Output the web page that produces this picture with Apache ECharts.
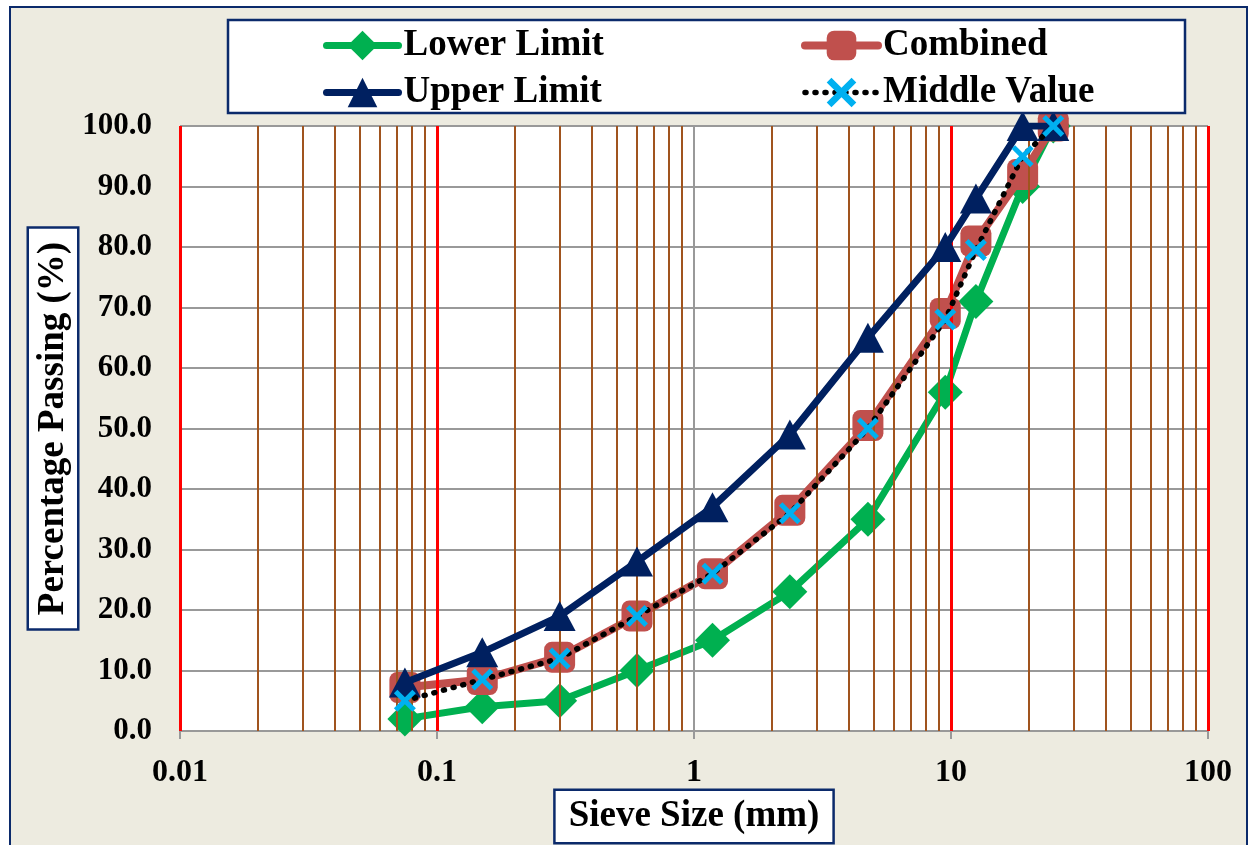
<!DOCTYPE html>
<html>
<head>
<meta charset="utf-8">
<script src="https://cdn.jsdelivr.net/npm/echarts@6/dist/echarts.min.js"></script>
<style>
html,body{margin:0;padding:0;background:#ffffff;}
#chart{width:1251px;height:845px;}
</style>
</head>
<body>
<div id="chart"></div>
<script>
const sieveSizes = [0.075, 0.15, 0.3, 0.6, 1.18, 2.36, 4.75, 9.5, 12.5, 19, 25];
const lowerLimit = [2, 4, 5, 10, 15, 23, 35, 56, 71, 90, 100];
const upperLimit = [8, 13, 19, 28, 37, 49, 65, 80, 88, 100, 100];
const combined = [7.2, 8.5, 12.2, 19, 26, 36.5, 50.5, 69, 81, 92, 100];
const middleValue = [5, 8.5, 12, 19, 26, 36, 50, 68, 79.5, 95, 100];
const minorGridValues = [0.02,0.03,0.04,0.05,0.06,0.07,0.08,0.09,0.2,0.3,0.4,0.5,0.6,0.7,0.8,0.9,2,3,4,5,6,7,8,9,20,30,40,50,60,70,80,90];
const redGridValues = [0.01, 0.1, 10, 100];
const grayGridValues = [1];

const FONT = "'Liberation Serif','Times New Roman',serif";
const pairs = (ys) => sieveSizes.map((x, i) => [x, ys[i]]);
const xPath = 'path://M0,1.6 L1.6,0 L5,3.4 L8.4,0 L10,1.6 L6.6,5 L10,8.4 L8.4,10 L5,6.6 L1.6,10 L0,8.4 L3.4,5 Z';

const legendText = {fontFamily: FONT, fontWeight: 'bold', fontSize: 37, color: '#000', lineHeight: 37};
const legendLine = {width: 'inherit', cap: 'round'};

const chart = echarts.init(document.getElementById('chart'), null, {renderer: 'canvas'});
chart.setOption({
  backgroundColor: '#ffffff',
  animation: false,
  graphic: [
    {type: 'rect', z: -10, shape: {x: 10, y: 7, width: 1237, height: 860},
     style: {fill: '#EDEBE0', stroke: '#0B2A6B', lineWidth: 2}},
    {type: 'rect', z: -9, shape: {x: 180, y: 126, width: 1028, height: 605},
     style: {fill: '#ffffff'}},
    {type: 'rect', z: 8, shape: {x: 228, y: 20, width: 957, height: 93},
     style: {fill: '#ffffff', stroke: '#0B2A6B', lineWidth: 2.5}}
  ],
  grid: {left: 180, right: 43, top: 126, bottom: 114, containLabel: false, outerBoundsMode: 'none'},
  legend: [
    {orient: 'vertical', left: 323, top: 27, padding: 0, itemWidth: 72, itemHeight: 37, itemGap: 10, z: 10,
     data: ['Lower Limit', 'Upper Limit'], lineStyle: legendLine, textStyle: legendText},
    {orient: 'vertical', left: 801, top: 27, padding: 0, itemWidth: 73, itemHeight: 37, itemGap: 10, z: 10,
     data: ['Combined', 'Middle Value'], lineStyle: legendLine, textStyle: legendText}
  ],
  xAxis: {
    type: 'log', logBase: 10, min: 0.01, max: 100,
    name: 'Sieve Size (mm)', nameLocation: 'middle', nameGap: 60, nameMoveOverlap: false,
    nameTextStyle: {fontFamily: FONT, fontWeight: 'bold', fontSize: 37, lineHeight: 39, color: '#000',
      backgroundColor: '#fff', borderColor: '#0B2A6B', borderWidth: 2.5, padding: [6, 13, 6, 13]},
    axisLine: {show: true, lineStyle: {color: '#999999', width: 2}},
    axisTick: {show: true, length: 8, lineStyle: {color: '#999999', width: 2}},
    axisLabel: {fontFamily: FONT, fontWeight: 'bold', fontSize: 32, color: '#000', margin: 26,
      formatter: v => String(Number(Number(v).toPrecision(3)))},
    splitLine: {show: false},
    minorTick: {show: false}
  },
  yAxis: {
    type: 'value', min: 0, max: 100, interval: 10,
    name: 'Percentage Passing (%)', nameLocation: 'middle', nameGap: 103, nameRotate: 90, nameMoveOverlap: false,
    nameTextStyle: {fontFamily: FONT, fontWeight: 'bold', fontSize: 37, lineHeight: 38, color: '#000',
      backgroundColor: '#fff', borderColor: '#0B2A6B', borderWidth: 2.5, padding: [5, 13, 5, 13]},
    axisLine: {show: false},
    axisTick: {show: false},
    axisLabel: {fontFamily: FONT, fontWeight: 'bold', fontSize: 31, color: '#000', margin: 28,
      formatter: v => Number(v).toFixed(1)},
    splitLine: {show: true, lineStyle: {color: '#999999', width: 2}}
  },
  series: [
    {name: 'grid-minor', type: 'line', data: [], z: 1, silent: true,
     markLine: {silent: true, symbol: 'none', animation: false, label: {show: false},
       lineStyle: {color: '#A0541E', width: 2, type: 'solid'},
       data: minorGridValues.map(v => ({xAxis: v}))}},
    {name: 'grid-red', type: 'line', data: [], z: 1, silent: true,
     markLine: {silent: true, symbol: 'none', animation: false, label: {show: false},
       lineStyle: {color: '#FF0000', width: 3, type: 'solid'},
       data: redGridValues.map(v => ({xAxis: v}))}},
    {name: 'grid-gray', type: 'line', data: [], z: 1, silent: true,
     markLine: {silent: true, symbol: 'none', animation: false, label: {show: false},
       lineStyle: {color: '#999999', width: 2, type: 'solid'},
       data: grayGridValues.map(v => ({xAxis: v}))}},
    {name: 'Lower Limit', type: 'line', data: pairs(lowerLimit), z: 3,
     symbol: 'diamond', symbolSize: 35,
     lineStyle: {color: '#00B050', width: 7, cap: 'round'},
     itemStyle: {color: '#00B050'}},
    {name: 'Combined', type: 'line', data: pairs(combined), z: 4,
     symbol: 'roundRect', symbolSize: 31,
     lineStyle: {color: '#C0504D', width: 8, cap: 'round'},
     itemStyle: {color: '#C0504D'}},
    {name: 'Upper Limit', type: 'line', data: pairs(upperLimit), z: 5,
     symbol: 'triangle', symbolSize: [32, 30],
     lineStyle: {color: '#002060', width: 7, cap: 'round'},
     itemStyle: {color: '#002060'}},
    {name: 'Middle Value', type: 'line', data: pairs(middleValue), z: 6,
     symbol: xPath, symbolSize: 22,
     lineStyle: {color: '#000000', width: 5.5, type: [1, 9], cap: 'round'},
     itemStyle: {color: '#00B0F0'}}
  ]
});
</script>
</body>
</html>
